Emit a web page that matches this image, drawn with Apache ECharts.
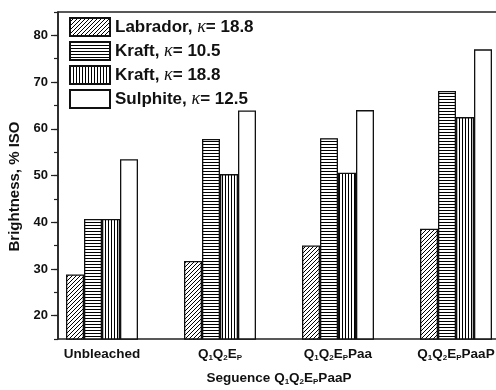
<!DOCTYPE html>
<html>
<head>
<meta charset="utf-8">
<script src="https://cdn.jsdelivr.net/npm/echarts@6/dist/echarts.min.js"></script>
<style>
html,body{margin:0;padding:0;background:#fff;}
#chart{width:496px;height:390px;}
</style>
</head>
<body>
<div id="chart"></div>
<script>
// ---- data ----
var categories = ['Unbleached', 'Q{s|1}Q{s|2}E{s|P}', 'Q{s|1}Q{s|2}E{s|P}Paa', 'Q{s|1}Q{s|2}E{s|P}PaaP'];
var seriesNames = ['Labrador, κ= 18.8', 'Kraft, κ= 10.5', 'Kraft, κ= 18.8', 'Sulphite, κ= 12.5'];
var labrador = [28.8, 31.7, 35.0, 38.6];
var kraft105 = [40.7, 57.8, 58.0, 68.1];
var kraft188 = [40.7, 50.3, 50.6, 62.5];
var sulphite = [53.5, 63.9, 64.0, 77.0];
var yMajorTicks = [20, 30, 40, 50, 60, 70, 80];
var yMin = 15, yMax = 85, yMinorStep = 5;
var xTitle = 'Seguence Q{s|1}Q{s|2}E{s|P}PaaP';
var yTitle = 'Brightness, % ISO';

// ---- patterns ----
function makePattern(type) {
  var c = document.createElement('canvas');
  var ctx = c.getContext('2d');
  if (type === 'diag') {
    c.width = 4; c.height = 4;
    ctx.fillStyle = '#fff'; ctx.fillRect(0, 0, 4, 4);
    ctx.strokeStyle = '#000'; ctx.lineWidth = 1;
    ctx.beginPath();
    ctx.moveTo(-1, 5); ctx.lineTo(5, -1);
    ctx.moveTo(-1, 1); ctx.lineTo(1, -1);
    ctx.moveTo(3, 5); ctx.lineTo(5, 3);
    ctx.stroke();
  } else if (type === 'horiz') {
    c.width = 4; c.height = 3;
    ctx.fillStyle = '#fff'; ctx.fillRect(0, 0, 4, 3);
    ctx.fillStyle = '#000'; ctx.fillRect(0, 0, 4, 1);
  } else if (type === 'vert') {
    c.width = 3; c.height = 4;
    ctx.fillStyle = '#fff'; ctx.fillRect(0, 0, 3, 4);
    ctx.fillStyle = '#000'; ctx.fillRect(0, 0, 1, 4);
  } else {
    c.width = 2; c.height = 2;
    ctx.fillStyle = '#fff'; ctx.fillRect(0, 0, 2, 2);
  }
  return { image: c, repeat: 'repeat' };
}

var patterns = [makePattern('diag'), makePattern('horiz'), makePattern('vert'), makePattern('none')];
var values = [labrador, kraft105, kraft188, sulphite];

var font = 'Liberation Sans, Arial, sans-serif';
var subRich = {
  s: { fontSize: 8, fontWeight: 'bold', fontFamily: font, color: '#111', verticalAlign: 'bottom', padding: [7, 0, 0, 0] }
};

var series = values.map(function (d, i) {
  return {
    name: seriesNames[i],
    type: 'bar',
    xAxisIndex: 0,
    yAxisIndex: 0,
    data: d,
    barWidth: 18,
    barGap: '0%',
    itemStyle: { color: patterns[i], borderColor: '#111', borderWidth: 1.3 },
    emphasis: { disabled: true }
  };
});

var chart = echarts.init(document.getElementById('chart'), null, { renderer: 'canvas' });
chart.setOption({
  animation: false,
  backgroundColor: '#fff',
  textStyle: { fontFamily: font },
  legend: {
    orient: 'vertical',
    left: 69,
    top: 17,
    padding: 0,
    itemWidth: 40,
    itemHeight: 18,
    itemGap: 4,
    icon: 'rect',
    data: seriesNames,
    formatter: function (name) { return name.replace('κ', '{k|κ}'); },
    textStyle: {
      fontSize: 17, fontWeight: 'bold', color: '#111', fontFamily: font,
      rich: { k: { fontSize: 18, fontStyle: 'italic', fontWeight: 'normal', fontFamily: 'Liberation Serif, serif', color: '#111' } }
    }
  },
  grid: [
    { left: 43, width: 472, top: 12, bottom: 51, outerBoundsMode: 'none', containLabel: false },
    { left: 58, width: 450, top: 12, bottom: 51, outerBoundsMode: 'none', containLabel: false, show: true, borderColor: '#222', borderWidth: 1.5, backgroundColor: 'transparent' }
  ],
  xAxis: [
    {
      type: 'category', gridIndex: 0, data: categories,
      axisLine: { show: false }, axisTick: { show: false },
      axisLabel: { fontSize: 13.5, fontWeight: 'bold', color: '#111', margin: 8, interval: 0, rich: subRich },
      name: xTitle, nameLocation: 'middle', nameGap: 32,
      nameTextStyle: { fontSize: 13.5, fontWeight: 'bold', color: '#111', rich: subRich }
    },
    { type: 'value', gridIndex: 1, show: false, min: 0, max: 1 }
  ],
  yAxis: [
    { type: 'value', gridIndex: 0, min: yMin, max: yMax, show: false, splitLine: { show: false } },
    {
      type: 'value', gridIndex: 1, position: 'left', min: yMin, max: yMax, interval: yMinorStep,
      axisLine: { show: true, lineStyle: { color: '#222', width: 1.5 } },
      axisTick: { show: true, length: 4, lineStyle: { color: '#222', width: 1.2 } },
      axisLabel: { show: false }, splitLine: { show: false }
    },
    {
      type: 'value', gridIndex: 1, position: 'left', offset: 0, min: yMin, max: yMax,
      axisLine: { show: false },
      axisTick: { show: true, length: 7, customValues: yMajorTicks, lineStyle: { color: '#222', width: 1.2 } },
      axisLabel: { show: true, customValues: yMajorTicks, fontSize: 13, fontWeight: 'bold', color: '#111', margin: 10 },
      splitLine: { show: false },
      name: yTitle, nameLocation: 'middle', nameGap: 33,
      nameTextStyle: { fontSize: 15, fontWeight: 'bold', color: '#111', padding: [0, 0, 0, -22] }
    }
  ],
  series: series
});
</script>
</body>
</html>
